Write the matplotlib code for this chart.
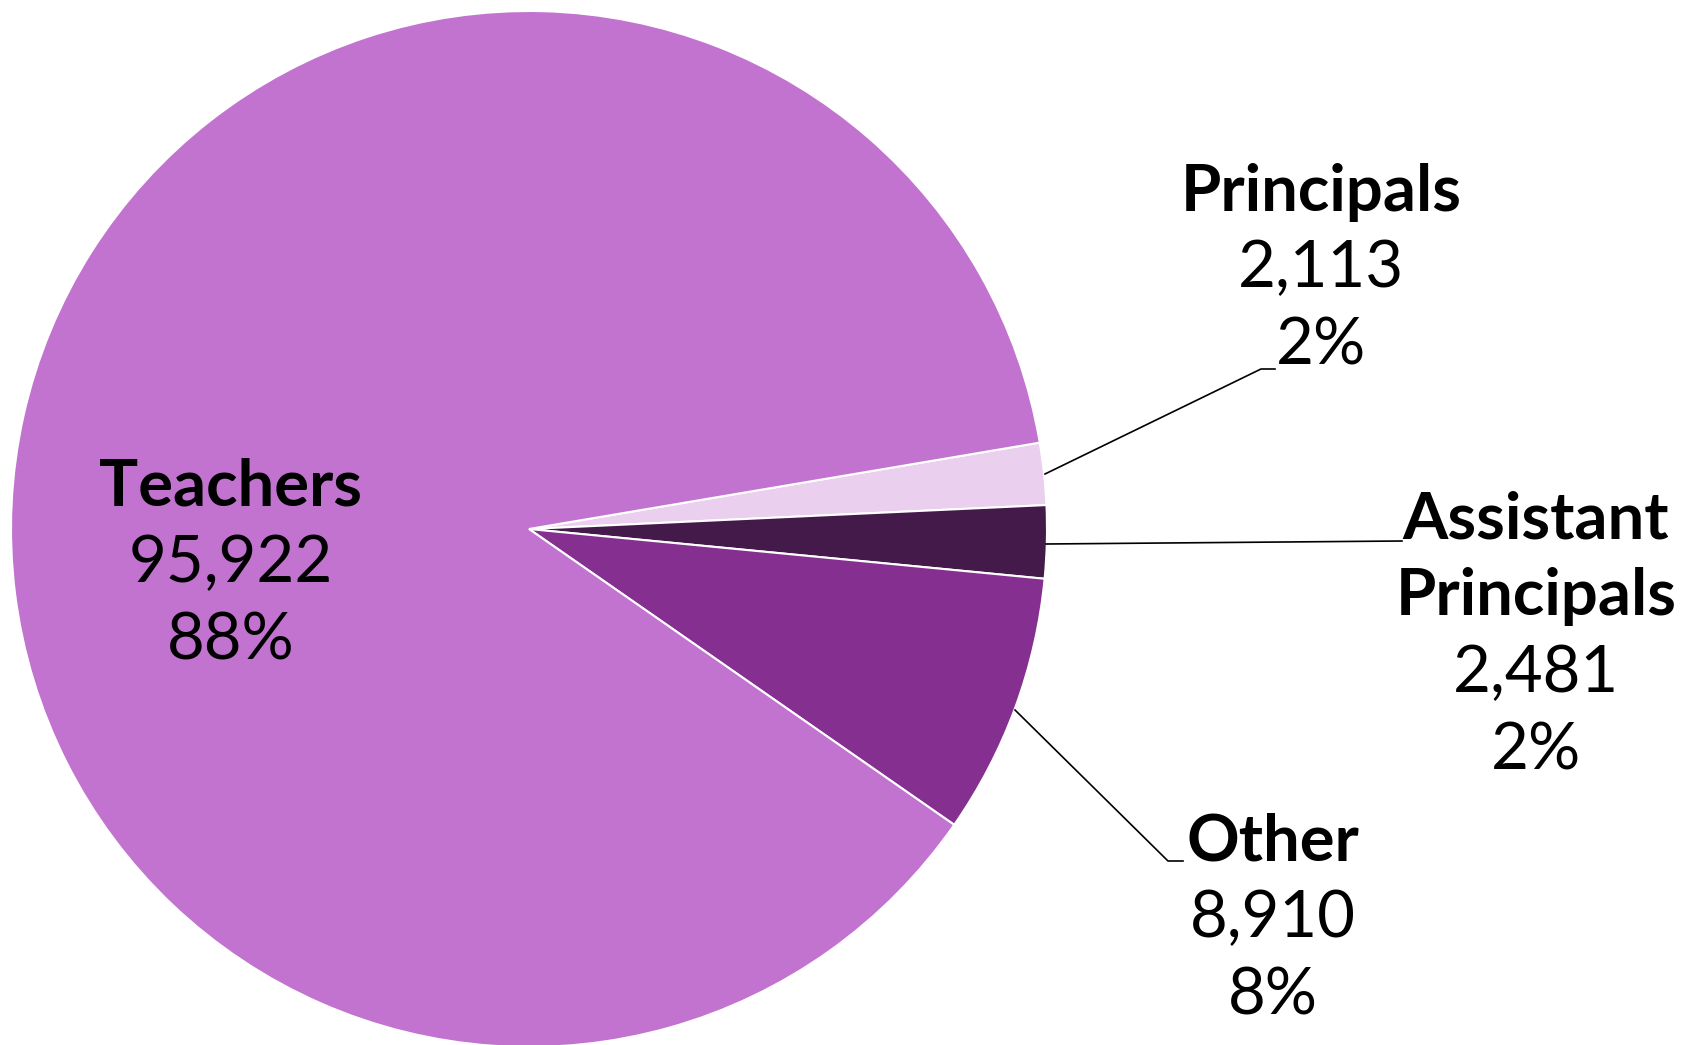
import matplotlib
matplotlib.use("Agg")
import matplotlib.pyplot as plt

# data
labels = ["Principals", "Assistant\nPrincipals", "Other", "Teachers"]
counts = [2113, 2481, 8910, 95922]
colors = ["#EBCFEE", "#431A4A", "#852F91", "#C173CF"]

W, H = 1687, 1045
fig = plt.figure(figsize=(W / 100, H / 100), dpi=100)
ax = fig.add_axes([0, 0, 1, 1])
ax.axis("off")

cx, cy, r = 529, H - 529, 518
ax.pie(counts, colors=colors, startangle=9.6, counterclock=False,
       center=(cx, cy), radius=r,
       wedgeprops=dict(edgecolor="white", linewidth=1.5))
ax.set_xlim(0, W)
ax.set_ylim(0, H)
ax.set_aspect("equal")

total = sum(counts)
pcts = [round(c / total * 100) for c in counts]

# label positions (x, y of the first line, from top of image)
pos = [(1321, 192), (1536, 520), (1273, 842), (231, 487)]
step = 77

for lab, c, p, (x, y) in zip(labels, counts, pcts, pos):
    lines = lab.split("\n")
    for i, ln in enumerate(lines):
        ax.text(x, H - (y + i * step), ln, ha="center", va="center",
                fontsize=47, fontweight="bold", family="Lato")
    n = len(lines)
    ax.text(x, H - (y + n * step), f"{c:,}", ha="center", va="center",
            fontsize=47, fontweight="normal", family="Lato")
    ax.text(x, H - (y + (n + 1) * step), f"{p}%", ha="center", va="center",
            fontsize=47, fontweight="normal", family="Lato")

# leader lines
leaders = [
    [(1045, 474), (1261, 369), (1275, 369)],
    [(1046, 544), (1402, 541)],
    [(1015, 710), (1168, 861), (1183, 861)],
]
for pts in leaders:
    xs = [p[0] for p in pts]
    ys = [H - p[1] for p in pts]
    ax.plot(xs, ys, color="black", linewidth=1.2)

fig.savefig("out.png", dpi=100)
